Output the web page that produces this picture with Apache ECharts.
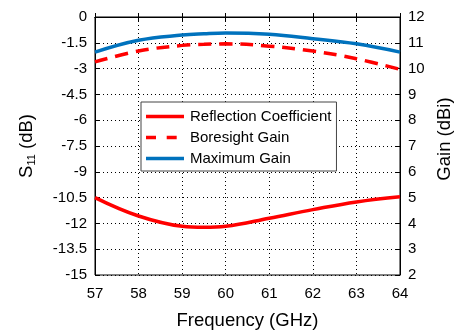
<!DOCTYPE html>
<html><head><meta charset="utf-8">
<script src="https://cdn.jsdelivr.net/npm/echarts@6/dist/echarts.min.js"></script>
<style>html,body{margin:0;padding:0;background:#fff}#c{width:456px;height:330px}</style>
</head><body><div id="c"></div>
<script>
var freq = [57, 58, 59, 59.5, 60, 61, 62, 63, 64];
var reflection = [-10.5, -11.57, -12.17, -12.23, -12.17, -11.7, -11.2, -10.75, -10.45];
var boresightGain = [10.26, 10.68, 10.9, 10.94, 10.96, 10.87, 10.68, 10.38, 9.97];
var maximumGain = [10.64, 11.1, 11.3, 11.35, 11.38, 11.33, 11.16, 10.96, 10.64];
var leftTicks = [0, -1.5, -3, -4.5, -6, -7.5, -9, -10.5, -12, -13.5, -15];
var rightTicks = [2, 3, 4, 5, 6, 7, 8, 9, 10, 11, 12];
var names = ['Reflection Coefficient', 'Boresight Gain', 'Maximum Gain'];

function pairs(xs, ys) { return xs.map(function (x, i) { return [x, ys[i]]; }); }

var font = 'Liberation Sans, Arial, sans-serif';
var solidIcon = 'path://M0,0h38v3.5h-38z';
var dashIcon = 'path://M0,0h10v3.5h-10z M20.7,0h10v3.5h-10z M38,0L38,3.5';
var tick = {inside: true, length: 4, lineStyle: {color: '#000'}};
var chart = echarts.init(document.getElementById('c'), null, {renderer: 'canvas'});
chart.setOption({
  animation: false,
  backgroundColor: '#fff',
  textStyle: {fontFamily: font},
  grid: {left: 95, right: 56, top: 17, bottom: 55, containLabel: false, outerBoundsMode: 'none',
    show: true, borderColor: '#000', borderWidth: 1, backgroundColor: 'transparent'},
  legend: {
    orient: 'vertical', left: 141, top: 102,
    data: [{name: names[0], icon: solidIcon}, {name: names[1], icon: dashIcon}, {name: names[2], icon: solidIcon}],
    itemWidth: 38, itemHeight: 14, itemGap: 6,
    padding: [7, 5, 5, 5],
    borderColor: '#444', borderWidth: 1, backgroundColor: '#fff',
    textStyle: {fontSize: 15, color: '#000', fontFamily: font, padding: [0, 0, 0, 1]}
  },
  xAxis: [{
    type: 'value', min: 57, max: 64, interval: 1,
    name: 'Frequency (GHz)', nameLocation: 'middle', nameGap: 36,
    nameTextStyle: {fontSize: 18.5, color: '#000'},
    axisLine: {lineStyle: {color: '#000'}},
    axisTick: tick,
    axisLabel: {fontSize: 15, color: '#000', margin: 11},
    splitLine: {show: true, lineStyle: {color: '#000', type: [1, 3], width: 1}}
  }, {
    type: 'value', min: 57, max: 64, interval: 1, position: 'top',
    axisLine: {lineStyle: {color: '#000'}},
    axisTick: tick,
    axisLabel: {show: false},
    splitLine: {show: false}
  }],
  yAxis: [{
    type: 'value', min: -15, max: 0, interval: 1.5,
    name: 'S{sub|11} (dB)', nameLocation: 'middle', nameGap: 58, nameRotate: 90,
    nameTextStyle: {fontSize: 18.5, color: '#000', rich: {sub: {fontSize: 11, verticalAlign: 'bottom', padding: [9, 0, 0, 0]}}},
    axisLine: {show: true, lineStyle: {color: '#000'}},
    axisTick: tick,
    axisLabel: {fontSize: 15, color: '#000', margin: 8, formatter: function (v) { return leftTicks.indexOf(v) >= 0 ? String(v) : ''; }},
    splitLine: {show: true, lineStyle: {color: '#000', type: [1, 3], width: 1}}
  }, {
    type: 'value', min: 2, max: 12, interval: 1,
    name: 'Gain (dBi)', nameLocation: 'middle', nameGap: 28, nameRotate: 90,
    nameTextStyle: {fontSize: 18.5, color: '#000', padding: [0, 0, 0, 14]},
    axisLine: {show: true, lineStyle: {color: '#000'}},
    axisTick: tick,
    axisLabel: {fontSize: 15, color: '#000', margin: 8, formatter: function (v) { return rightTicks.indexOf(v) >= 0 ? String(v) : ''; }},
    splitLine: {show: false}
  }],
  series: [{
    name: names[0], type: 'line', yAxisIndex: 0, smooth: 0.4, symbol: 'none',
    data: pairs(freq, reflection),
    lineStyle: {color: '#ff0000', width: 3.5}, itemStyle: {color: '#ff0000'}
  }, {
    name: names[1], type: 'line', yAxisIndex: 1, smooth: 0.4, symbol: 'none',
    data: pairs(freq, boresightGain),
    lineStyle: {color: '#ff0000', width: 3.5, type: [13, 8]}, itemStyle: {color: '#ff0000'}
  }, {
    name: names[2], type: 'line', yAxisIndex: 1, smooth: 0.4, symbol: 'none',
    data: pairs(freq, maximumGain),
    lineStyle: {color: '#0072bd', width: 3.5}, itemStyle: {color: '#0072bd'}
  }]
});
</script></body></html>
